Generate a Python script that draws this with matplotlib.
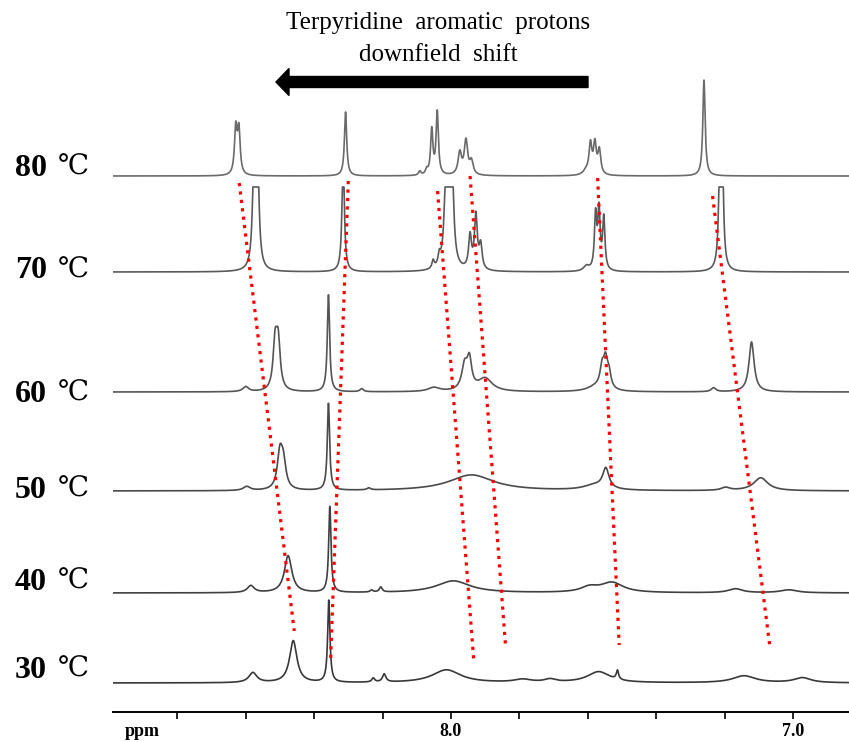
import numpy as np
import matplotlib
matplotlib.use("Agg")
import matplotlib.pyplot as plt
from matplotlib.patches import FancyArrow

# temperatures, top to bottom
temps = ["80", "70", "60", "50", "40", "30"]

# peaks per spectrum: (ppm, height, half width)
peaks_80 = [(8.629, 46, 0.0045), (8.620, 44, 0.0045), (8.308, 64, 0.004),
            (8.091, 4, 0.004), (8.071, 5, 0.004), (8.056, 45, 0.004), (8.040, 63, 0.004),
            (7.974, 22, 0.006), (7.956, 34, 0.006), (7.940, 13, 0.006),
            (7.605, 4, 0.010), (7.592, 30, 0.005), (7.579, 30, 0.005), (7.566, 24, 0.005),
            (7.260, 96, 0.004)]
peaks_70 = [(8.575, 120, 0.005), (8.566, 120, 0.005), (8.315, 120, 0.004),
            (8.052, 8, 0.004), (8.034, 10, 0.004), (8.013, 120, 0.006), (7.998, 120, 0.006),
            (7.944, 33, 0.005), (7.927, 54, 0.005), (7.913, 24, 0.005),
            (7.604, 5, 0.010), (7.577, 54, 0.004), (7.567, 58, 0.004), (7.553, 52, 0.004),
            (7.213, 120, 0.004), (7.207, 120, 0.004)]
peaks_60 = [(8.600, 5, 0.010), (8.514, 46, 0.007), (8.505, 46, 0.007), (8.358, 97, 0.004),
            (8.261, 3, 0.006), (8.050, 4, 0.020),
            (7.960, 24, 0.010), (7.946, 28, 0.008), (7.900, 13, 0.025),
            (7.575, 5, 0.030), (7.558, 19, 0.007), (7.548, 26, 0.007), (7.538, 15, 0.007),
            (7.232, 4, 0.008), (7.121, 50, 0.009)]
peaks_50 = [(8.597, 4, 0.012), (8.500, 35, 0.009), (8.490, 25, 0.009), (8.358, 87, 0.004),
            (8.240, 2, 0.006), (7.940, 16, 0.080),
            (7.580, 5, 0.040), (7.547, 20, 0.011),
            (7.197, 3, 0.015), (7.094, 13, 0.025)]
peaks_40 = [(8.585, 7, 0.012), (8.476, 37, 0.013), (8.354, 86, 0.004),
            (8.232, 2, 0.005), (8.205, 5, 0.005), (7.993, 12, 0.060),
            (7.595, 5, 0.030), (7.529, 10, 0.040),
            (7.168, 4, 0.025), (7.012, 3, 0.030)]
peaks_30 = [(8.579, 10, 0.014), (8.461, 42, 0.013), (8.357, 82, 0.004),
            (8.227, 4, 0.005), (8.195, 8, 0.006), (8.013, 13, 0.050),
            (7.790, 3, 0.030), (7.710, 3, 0.020),
            (7.568, 11, 0.040), (7.513, 9, 0.004),
            (7.143, 7, 0.040), (6.972, 5, 0.030)]
spectra = [peaks_80, peaks_70, peaks_60, peaks_50, peaks_40, peaks_30]

# dotted guides that follow the shifting peaks: (ppm at top, level at top, ppm at bottom, level at bottom)
guides = [(8.619, 529, 8.458, 81),
          (8.300, 531, 8.352, 50),
          (8.039, 521, 7.933, 51),
          (7.944, 536, 7.840, 65),
          (7.571, 534, 7.508, 67),
          (7.235, 516, 7.068, 67)]

# ---- layout (pixel based, figure is 849 x 742) ----
W, H = 849, 742
offsets = [536, 440, 320, 221, 119, 29]       # baseline of each trace
clip_top = [None, 85, None, None, None, None]  # 70 C trace is truncated
label_y = [168, 271, 394, 490, 582, 670]
trace_colors = ["#6a6a6a", "#5a5a5a", "#555555", "#4a4a4a", "#404040", "#383838"]

fig = plt.figure(figsize=(W / 100, H / 100), dpi=100)
ax = fig.add_axes([113 / W, (H - 712) / H, 1 - 113 / W, (712 - 60) / H])

x = np.linspace(9.0, 6.8, 6000)
for peaks, off, clip, c in zip(spectra, offsets, clip_top, trace_colors):
    y = np.zeros_like(x)
    for p, h, w in peaks:
        y += h / (1 + ((x - p) / w) ** 2)
    if clip is not None:
        y = np.minimum(y, clip)
    ax.plot(x, y + off, color=c, lw=1.2)

for x0, y0, x1, y1 in guides:
    ax.plot([x0, x1], [y0, y1], color="red", lw=2.3, ls=":")

ticks = np.round(np.arange(8.8, 6.95, -0.2), 1)
ax.set_xlim(8.988, 6.836)
ax.set_ylim(0, 652)
for s in ["left", "right", "top"]:
    ax.spines[s].set_visible(False)
ax.spines["bottom"].set_linewidth(1.4)
ax.set_yticks([])
ax.set_xticks(ticks)
ax.set_xticklabels([f"{t:.1f}" if t in (8.0, 7.0) else "" for t in ticks],
                   fontfamily="Liberation Serif", fontweight="bold", fontsize=13)
ax.tick_params(axis="x", direction="out", length=5, width=1.2, pad=3)

fig.text(125 / W, 1 - 731 / H, "ppm", fontfamily="Liberation Serif", fontweight="bold",
         fontsize=13, ha="left", va="center")

for t, ly in zip(temps, label_y):
    fig.text(15 / W, 1 - ly / H, t, fontfamily="Liberation Serif", fontweight="bold",
             fontsize=23, ha="left", va="center")
    fig.text(58 / W, 1 - (ly - 1) / H, "\u2103", family=["DejaVu Serif", "Noto Sans CJK SC"],
             fontsize=20, ha="left", va="center")

fig.text(438 / W, 1 - 23 / H, "Terpyridine  aromatic  protons", fontfamily="Liberation Serif",
         fontsize=18, ha="center", va="center")
fig.text(438 / W, 1 - 55 / H, "downfield  shift", fontfamily="Liberation Serif",
         fontsize=18, ha="center", va="center")

arrow = FancyArrow(588 / W, 1 - 82 / H, -(588 - 276) / W, 0, width=11 / H,
                   head_width=27 / H, head_length=13 / W, length_includes_head=True,
                   color="black", transform=fig.transFigure)
fig.patches.append(arrow)

fig.savefig("out.png", dpi=100)
